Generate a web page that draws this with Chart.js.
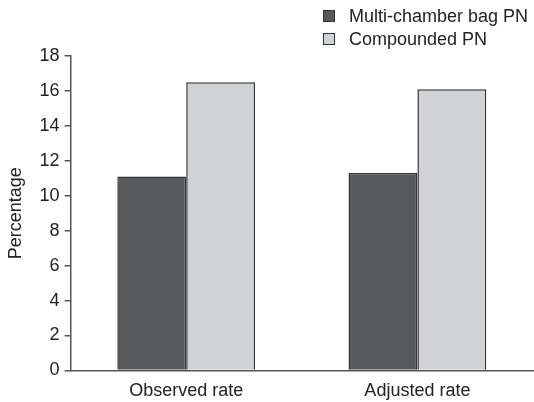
<!DOCTYPE html>
<html>
<head>
<meta charset="utf-8">
<script src="https://cdn.jsdelivr.net/npm/chart.js@4"></script>
<style>
  body { margin: 0; background: #fff; }
  #wrap { position: relative; width: 534px; height: 402px; }
  #legend { position: absolute; left: 323px; top: 5px; font: 18px "Liberation Sans", Arial, sans-serif; color: #222; }
  #legend div { height: 23px; line-height: 23px; }
  #legend span { display: inline-block; width: 10px; height: 10px; border: 1px solid #333; margin-right: 14px; vertical-align: 0px; }
</style>
</head>
<body>
<div id="wrap">
  <canvas id="myChart" width="534" height="402"></canvas>
  <div id="legend"></div>
</div>
<script>
var categories = ['Observed rate', 'Adjusted rate'];
var seriesNames = ['Multi-chamber bag PN', 'Compounded PN'];
var multiChamber = [11.1, 11.3];
var compounded = [16.5, 16.1];
var yTicks = [0, 2, 4, 6, 8, 10, 12, 14, 16, 18];

var colors = ['#58595b', '#d1d2d4'];

var legend = document.getElementById('legend');
for (let i = 0; i < seriesNames.length; i++) {
    legend.innerHTML += '<div><span style="background:' + colors[i] + '"></span>' + seriesNames[i] + '</div>';
}

Chart.defaults.font.family = '"Liberation Sans", Arial, sans-serif';
Chart.defaults.color = '#222';

const ctx = document.getElementById('myChart').getContext('2d');

new Chart(ctx, {
    type: 'bar',
    data: {
        labels: categories,
        datasets: [{
            label: seriesNames[0],
            data: multiChamber,
            backgroundColor: colors[0],
            borderColor: '#333',
            borderWidth: 1.5
        }, {
            label: seriesNames[1],
            data: compounded,
            backgroundColor: colors[1],
            borderColor: '#333',
            borderWidth: 1.5
        }]
    },
    options: {
        responsive: false,
        animation: false,
        layout: { padding: { top: 56, right: 1, left: 1, bottom: -10 } },
        plugins: { legend: { display: false }, tooltip: { enabled: false } },
        datasets: { bar: { categoryPercentage: 0.596, barPercentage: 1 } },
        scales: {
            x: {
                grid: { display: false, drawTicks: false },
                border: { color: '#555', width: 1.5 },
                ticks: { font: { size: 18 }, padding: 10 }
            },
            y: {
                min: 0,
                max: 18,
                afterBuildTicks: function(axis) {
                    axis.ticks = yTicks.map(v => ({ value: v }));
                },
                grid: { drawOnChartArea: false, tickLength: 6, color: '#555', lineWidth: 1.5 },
                border: { color: '#555', width: 1.5 },
                ticks: { font: { size: 18 }, padding: 5 },
                title: { display: true, text: 'Percentage', font: { size: 18 }, padding: { bottom: 8 } }
            }
        }
    }
});
</script>
</body>
</html>
